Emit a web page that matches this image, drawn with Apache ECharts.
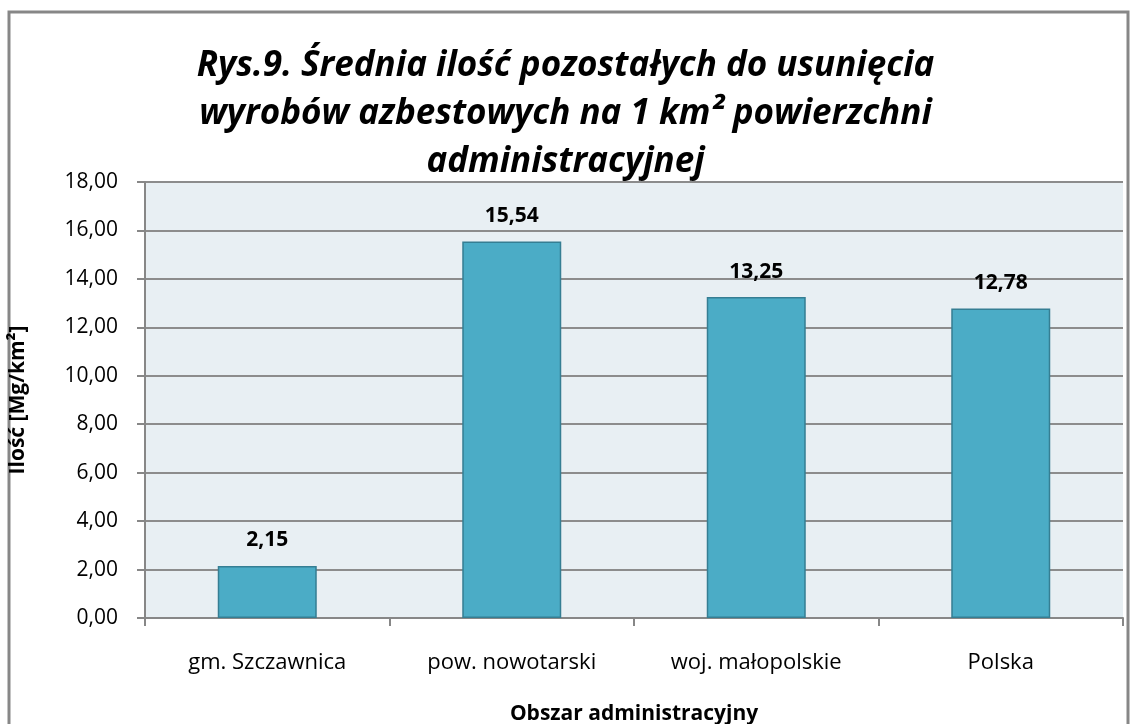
<!DOCTYPE html>
<html>
<head>
<meta charset="utf-8">
<script src="https://cdn.jsdelivr.net/npm/echarts@6/dist/echarts.min.js"></script>
<style>
  html, body { margin: 0; padding: 0; background: #fff; }
  #chart { width: 1131px; height: 724px; }
</style>
</head>
<body>
<div id="chart"></div>
<script>
// data
const categories = ["gm. Szczawnica", "pow. nowotarski", "woj. małopolskie", "Polska"];
const values = [2.15, 15.54, 13.25, 12.78];
const titleLines = [
  "Rys.9. Średnia ilość pozostałych do usunięcia",
  "wyrobów azbestowych na 1 km² powierzchni",
  "administracyjnej"
];

const fmt = (v) => v.toFixed(2).replace(".", ",");
const font = "'Open Sans', 'DejaVu Sans', sans-serif";

const chart = echarts.init(document.getElementById("chart"));
chart.setOption({
  animation: false,
  textStyle: { fontFamily: font },
  title: {
    text: titleLines.join("\n"),
    left: "center",
    top: 37,
    textStyle: {
      fontSize: 35,
      fontStyle: "italic",
      fontWeight: "bold",
      color: "#000",
      lineHeight: 48,
      fontFamily: font
    }
  },
  graphic: [
    {
      type: "rect",
      shape: { x: 9, y: 12, width: 1119, height: 720 },
      style: { fill: "none", stroke: "#878787", lineWidth: 3 },
      z: -1
    }
  ],
  grid: {
    left: 145,
    right: 8,
    top: 182,
    bottom: 106,
    outerBoundsMode: "none",
    show: true,
    backgroundColor: "#e8eff3",
    borderWidth: 0
  },
  xAxis: {
    type: "category",
    data: categories,
    name: "Obszar administracyjny",
    nameLocation: "middle",
    nameGap: 86,
    nameTextStyle: { fontSize: 21, fontWeight: "bold", color: "#000" },
    axisLine: { lineStyle: { color: "#878787", width: 2 } },
    axisTick: { show: true, length: 8, lineStyle: { color: "#878787", width: 2 } },
    axisLabel: { fontSize: 22, color: "#000", margin: 34 }
  },
  yAxis: {
    type: "value",
    min: 0,
    max: 18,
    interval: 2,
    name: "Ilość [Mg/km²]",
    nameLocation: "middle",
    nameGap: 116,
    nameRotate: 90,
    nameTextStyle: { fontSize: 21, fontWeight: "bold", color: "#000" },
    axisLine: { show: true, lineStyle: { color: "#878787", width: 2 } },
    axisTick: { show: true, length: 8, lineStyle: { color: "#878787", width: 2 } },
    axisLabel: { fontSize: 21, color: "#000", margin: 27, formatter: (v) => fmt(v) },
    splitLine: { lineStyle: { color: "#8c8c8c", width: 2 } }
  },
  series: [
    {
      type: "bar",
      data: values,
      barWidth: 99,
      itemStyle: { color: "#4bacc6", borderColor: "#357e93", borderWidth: 1.5 },
      label: {
        show: true,
        position: "top",
        distance: 15,
        fontSize: 21,
        fontWeight: "bold",
        color: "#000",
        formatter: (p) => fmt(p.value)
      }
    }
  ]
});
</script>
</body>
</html>
